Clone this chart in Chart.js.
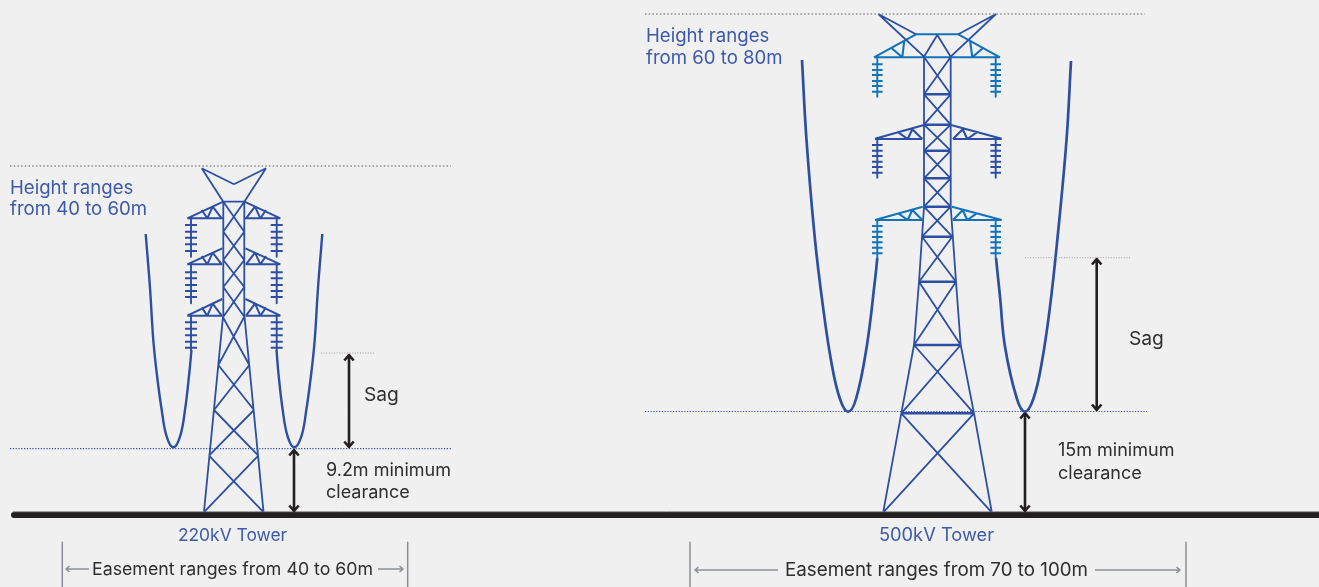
<!DOCTYPE html>
<html><head><meta charset="utf-8">
<style>html,body{margin:0;padding:0;background:#f0f0f0;overflow:hidden}canvas{display:block}</style>
<script src="https://cdn.jsdelivr.net/npm/chart.js@4"></script></head>
<body><canvas id="c" width="1319" height="587"></canvas>
<script>
const tower220Frame = [
[201.7,168.3,234,184.3],[234,184.3,266,168.3],[201.7,168.3,223.3,201.7],[266,168.3,244.3,201.7],
[223.3,201.7,244.3,201.7],[223.3,201.7,223.3,316.7],[244.3,201.7,244.3,316.7],
[223,316.7,204,511.7],[244.5,316.7,263.5,511.7],
[223.3,201.7,244.3,231.7],[244.3,201.7,223.3,231.7],[223.3,231.7,244.3,260],[244.3,231.7,223.3,260],
[223.3,260,244.3,287],[244.3,260,223.3,287],[223.3,287,244.3,316.7],[244.3,287,223.3,316.7],
[222.7,316.7,249.3,365],[244.3,316.7,218.3,365],[218.3,365,254,410],[249.3,365,214,410],
[214,410,258.3,455.7],[254,410,209,455.7],[209,455.7,263,511.7],[258.3,455.7,204.5,511.7]];
const tower220Arms = [
[187.3,218.3,223.3,201.7],[187.3,218.3,223.3,218.3],[201.7,210,207.3,218.3],[207.3,218.3,212.7,206.7],[212.7,206.7,221.7,218.3],
[280.4,218.3,244.4,201.7],[280.4,218.3,244.4,218.3],[266,210,260.4,218.3],[260.4,218.3,255,206.7],[255,206.7,246,218.3],
[187.3,264.3,222.3,248.3],[187.3,264.3,222.3,264.3],[201.7,256,207.3,264.3],[207.3,264.3,212.7,252.7],[212.7,252.7,221.7,264.3],
[280.4,264.3,245.4,248.3],[280.4,264.3,245.4,264.3],[266,256,260.4,264.3],[260.4,264.3,255,252.7],[255,252.7,246,264.3],
[187.3,315.7,222.3,299],[187.3,315.7,222.3,315.7],[201.7,307.4,207.3,315.7],[207.3,315.7,212.7,303.7],[212.7,303.7,221.7,315.7],
[280.4,315.7,245.4,299],[280.4,315.7,245.4,315.7],[266,307.4,260.4,315.7],[260.4,315.7,255,303.7],[255,303.7,246,315.7]];
const tower220Insulators = [
[191,218.3,191,256.7],[185,225,197,225],[185,231.7,197,231.7],[185,237.7,197,237.7],[185,244.3,197,244.3],[185,251,197,251],
[276.7,218.3,276.7,256.7],[270.7,225,282.7,225],[270.7,231.7,282.7,231.7],[270.7,237.7,282.7,237.7],[270.7,244.3,282.7,244.3],[270.7,251,282.7,251],
[191,264.3,191,303.3],[185,272.3,197,272.3],[185,278.3,197,278.3],[185,285,197,285],[185,291,197,291],[185,297,197,297],
[276.7,264.3,276.7,303.3],[270.7,272.3,282.7,272.3],[270.7,278.3,282.7,278.3],[270.7,285,282.7,285],[270.7,291,282.7,291],[270.7,297,282.7,297],
[191,315.7,191,350],[185,322.3,197,322.3],[185,328.7,197,328.7],[185,335.3,197,335.3],[185,341.7,197,341.7],[185,347.7,197,347.7],
[276.7,315.7,276.7,350],[270.7,322.3,282.7,322.3],[270.7,328.7,282.7,328.7],[270.7,335.3,282.7,335.3],[270.7,341.7,282.7,341.7],[270.7,347.7,282.7,347.7]];
const cable220Left = [[145.7,234],[150,288],[153.3,340],[156.7,373],[161.7,410],[166.7,436.7],[173.3,447.3],[180,436.7],[185,410],[189.3,373],[191.5,350]];
const cable220Right = [[322.3,234],[318,288],[314.7,340],[311.3,373],[306.3,410],[301.3,436.7],[294.2,447.3],[287.7,436.7],[282.7,410],[278.4,373],[276.5,350]];

const tower500Frame = [
[878.3,14,916,34.3],[996,14,958.3,34.3],[878.3,14,924,56.7],[996,14,950.7,56.7],
[924,56.7,937.3,35],[950.7,56.7,937.3,35],
[924,56.7,924,206.7],[950.7,56.7,950.7,206.7],
[924,206.7,919,281.7],[950.7,206.7,956,281.7],[919,281.7,914,345],[956,281.7,960.7,345],
[914,345,901.3,413.3],[960.7,345,974,413.3],[901.3,413.3,883.3,511.7],[974,413.3,991.7,511.7],
[924,57,950.7,94.3],[950.7,57,924,94.3],[924,94.3,950.7,124.7],[950.7,94.3,924,124.7],
[924,124.7,950.7,150.7],[950.7,124.7,924,150.7],[924,150.7,950.7,178.3],[950.7,150.7,924,178.3],
[924,178.3,950.7,206.7],[950.7,178.3,924,206.7],[924,206.7,952.3,236.7],[950.7,206.7,922,236.7],
[922,236.7,956,281.7],[952.3,236.7,919,281.7],[919,281.7,960.7,345],[956,281.7,914,345],
[914,345,974,413.3],[960.7,345,901.3,413.3],[901.3,413.3,991,511.7],[974,413.3,884,511.7]];
const tower500Struts = [[924,94.3,950.7,94.3],[924,124.7,950.7,124.7],[924,150.7,950.7,150.7],[924,178.3,950.7,178.3],[924,206.7,950.7,206.7],
[922,236.7,952.3,236.7],[919,281.7,956,281.7],[914,345,960.7,345],[901.3,413.3,974,413.3]];
const tower500ArmsDark = [
[875,138.8,924,125],[875,139,922.3,139],[898.3,132.3,907.7,139],[907.7,139,912.3,129.3],[912.3,129.3,922.3,139],
[1001.7,138.8,951,125],[1001.7,139,953,139],[976.7,132.3,967.3,139],[967.3,139,962.7,129.3],[962.7,129.3,953,139]];
const tower500ArmsLight = [
[874,57.3,916,34.3],[1000,57.3,958.3,34.3],[916,34.3,958.3,34.3],[874,57.3,1000,57.3],
[891.7,48.3,902.3,57.3],[902.3,57.3,904.3,40],[982.7,48.3,972.3,57.3],[972.3,57.3,970,40],
[875,220,922.7,206.7],[875,220,922.3,220],[898.3,213.3,907.7,220],[907.7,220,912.3,210],[912.3,210,922.3,220],
[1001.7,220,952,206.7],[1001.7,220,953,220],[976.7,213.3,967.3,220],[967.3,220,962.7,210],[962.7,210,953,220]];
const tower500InsulatorsDark = [
[877.3,139,877.3,177.7],[872,145,882.6,145],[872,150.7,882.6,150.7],[872,156,882.6,156],[872,161.7,882.6,161.7],[872,167,882.6,167],[872,172.7,882.6,172.7],
[995.7,139,995.7,177.7],[990.4,145,1001,145],[990.4,150.7,1001,150.7],[990.4,156,1001,156],[990.4,161.7,1001,161.7],[990.4,167,1001,167],[990.4,172.7,1001,172.7]];
const tower500InsulatorsLight = [
[877.3,57,877.3,96.7],[872,64.3,882.6,64.3],[872,70,882.6,70],[872,75,882.6,75],[872,81,882.6,81],[872,86,882.6,86],[872,91.7,882.6,91.7],
[995.7,57,995.7,96.7],[990.4,64.3,1001,64.3],[990.4,70,1001,70],[990.4,75,1001,75],[990.4,81,1001,81],[990.4,86,1001,86],[990.4,91.7,1001,91.7],
[877.3,220,877.3,258],[872,226,882.6,226],[872,231.7,882.6,231.7],[872,237,882.6,237],[872,242.3,882.6,242.3],[872,247.7,882.6,247.7],[872,253.3,882.6,253.3],
[995.7,220,995.7,258],[990.4,226,1001,226],[990.4,231.7,1001,231.7],[990.4,237,1001,237],[990.4,242.3,1001,242.3],[990.4,247.7,1001,247.7],[990.4,253.3,1001,253.3]];
const cable500Left = [[802,60],[806.5,140],[815,240],[823,306.7],[831.5,363],[840,399],[848,411.7],[856,399],[866.7,346.7],[875,280],[877.3,258]];
const cable500Right = [[1071,61],[1066.5,140],[1057.3,240],[1050,306.7],[1041.7,363],[1033.3,399],[1025,411.7],[1017,399],[1005,346.7],[1000,296.7],[996,258]];

const groundLine = [[14,515],[1325,515]];
const groundEdge = [[13,511.7],[1325,511.7]];
const dottedGrey = [[10,166,451,166],[645,14,1145,14]];
const dottedSag = [[321,353,375,353],[1025,257.7,1131,257.7]];
const dottedBlue = [[10,448.6,451,448.6],[645,411.5,1147,411.5]];
const blackArrows = [
[349,355,349,447],[344.3,360.5,349,355,353.7,360.5],[344.3,441.5,349,447,353.7,441.5],
[294,450,294,511],[289.3,455.5,294,450,298.7,455.5],[289.3,505.5,294,511,298.7,505.5],
[1096.7,259,1096.7,410],[1092,264.5,1096.7,259,1101.4,264.5],[1092,404.5,1096.7,410,1101.4,404.5],
[1025,413,1025,511],[1020.3,418.5,1025,413,1029.7,418.5],[1020.3,505.5,1025,511,1029.7,505.5]];
const easementLines = [
[62.3,542.3,62.3,587],[407.7,542.3,407.7,587],[690,542.3,690,587],[1186,542.3,1186,587],
[66,569,89,569],[69.5,566,66,569,69.5,572],[378,569,403,569],[399.5,566,403,569,399.5,572],
[695,570,778,570],[698.5,567,695,570,698.5,573],[1095,570,1180,570],[1176.5,567,1180,570,1176.5,573]];

const towerLabels = ['220kV Tower','500kV Tower'];
const heightLabels = ['Height ranges','from 40 to 60m','Height ranges','from 60 to 80m'];
const noteLabels = ['Sag','9.2m minimum','clearance','Sag','15m minimum','clearance'];
const easementLabels = ['Easement ranges from 40 to 60m','Easement ranges from 70 to 100m'];

const BLUE='#2c4fa3', LIGHT='#1273b9', BLACK='#231f20', GREY='#8b8e95', TEXTBLUE='#3d5aa9', TEXT='#2e2e2e';
function pts(segs){const o=[];segs.forEach(s=>{for(let i=0;i<s.length;i+=2)o.push({x:s[i],y:s[i+1]});o.push({x:s[0],y:null});});return o;}
function pairs(a){return a.map(p=>({x:p[0],y:p[1]}));}
function ds(data,color,width,extra){return Object.assign({data,borderColor:color,borderWidth:width,pointRadius:0,showLine:true,fill:false,spanGaps:false,tension:0,borderJoinStyle:'round'},extra||{});}
const CURVE={tension:0.4,borderCapStyle:'butt'};
const datasets=[
 ds(pts(dottedGrey),'#8a8a8a',1.4,{borderDash:[1.5,2.2]}),
 ds(pts(dottedSag),'#9a9a9a',1,{borderDash:[1,1.6]}),
 ds(pts(dottedBlue),BLUE,1.1,{borderDash:[1.2,1.6]}),
 ds(pts(tower220Frame),BLUE,1.8),ds(pts(tower220Arms),BLUE,2),ds(pts(tower220Insulators),BLUE,1.9),
 ds(pts(tower500Frame),BLUE,1.8),ds(pts(tower500Struts),BLUE,2.6),ds(pts(tower500ArmsDark),BLUE,2.1),
 ds(pts(tower500ArmsLight),LIGHT,2.1),ds(pts(tower500InsulatorsDark),BLUE,1.9),ds(pts(tower500InsulatorsLight),LIGHT,1.9),
 ds(pairs(cable220Left),BLUE,2.4,CURVE),ds(pairs(cable220Right),BLUE,2.4,CURVE),
 ds(pairs(cable500Left),BLUE,2.7,CURVE),ds(pairs(cable500Right),BLUE,2.7,CURVE),
 ds(pts(blackArrows),BLACK,2.6),
 ds(pts(easementLines),GREY,1.5),
 ds(pairs(groundEdge),'#8d8d8d',1),
 ds(pairs(groundLine),BLACK,6,{borderCapStyle:'round'})
];
const FONT='Inter, Lato, sans-serif';
const labelPlacements=[
 [towerLabels[0],232.5,536,'center',TEXTBLUE,17.4],[towerLabels[1],936.5,536,'center',TEXTBLUE,18.3],
 [heightLabels[0],10,188,'left',TEXTBLUE,18.6],[heightLabels[1],10,209.5,'left',TEXTBLUE,18.6],
 [heightLabels[2],646,36,'left',TEXTBLUE,18.6],[heightLabels[3],646,58,'left',TEXTBLUE,18.6],
 [noteLabels[0],364,395,'left',TEXT,19.2],[noteLabels[1],326,471,'left',TEXT,18],[noteLabels[2],326,493,'left',TEXT,18],
 [noteLabels[3],1129,339,'left',TEXT,19.2],[noteLabels[4],1058,451,'left',TEXT,18],[noteLabels[5],1058,474,'left',TEXT,18],
 [easementLabels[0],92,570,'left',TEXT,17.75],[easementLabels[1],785,570,'left',TEXT,18.75]];
const textPlugin={id:'texts',afterDatasetsDraw(ch){const c=ch.ctx,sx=ch.scales.x,sy=ch.scales.y;c.save();c.textBaseline='middle';
 labelPlacements.forEach(l=>{c.font='400 '+l[5]+'px '+FONT;c.textAlign=l[3];c.fillStyle=l[4];c.fillText(l[0],sx.getPixelForValue(l[1]),sy.getPixelForValue(l[2]));});c.restore();}};
new Chart(document.getElementById('c'),{type:'scatter',data:{datasets},plugins:[textPlugin],options:{
 responsive:false,animation:false,devicePixelRatio:1,layout:{padding:0},
 plugins:{legend:{display:false},tooltip:{enabled:false},title:{display:false}},
 scales:{x:{type:'linear',min:0,max:1319,display:false},y:{type:'linear',min:0,max:587,reverse:true,display:false}}}});
</script></body></html>
